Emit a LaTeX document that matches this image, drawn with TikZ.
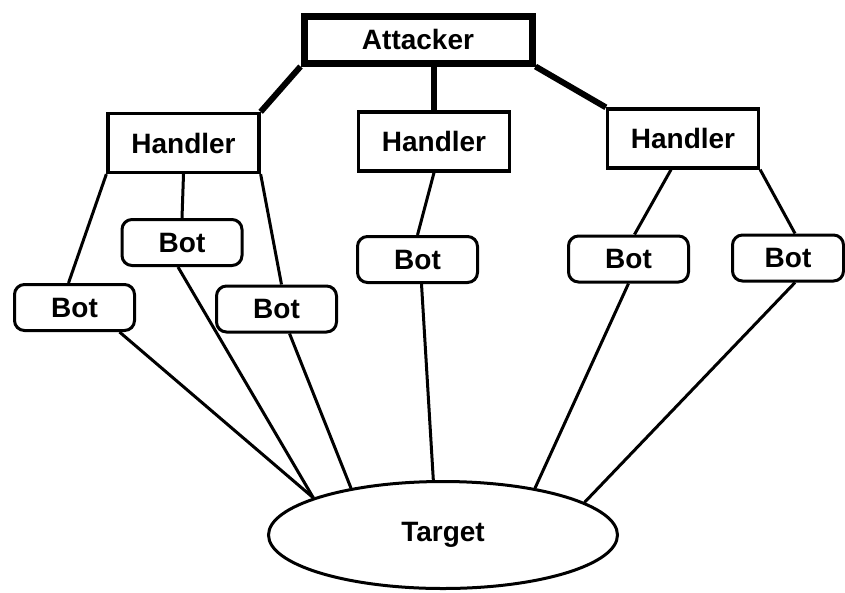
\documentclass[tikz,border=0pt]{standalone}
\usepackage{fontspec}
\setmainfont{Liberation Sans}
\usetikzlibrary{shapes.geometric}

\tikzset{
	box/.style={draw, rectangle, inner sep=0pt, font=\fontsize{28}{32}\selectfont\bfseries},
	attacker/.style={box, line width=7pt, minimum width=228pt, minimum height=47pt},
	handler/.style={box, line width=3.3pt, minimum width=151pt, minimum height=59pt},
	bot/.style={box, line width=3pt, rounded corners=10pt, minimum width=120pt, minimum height=46pt},
	target/.style={box, ellipse, line width=3pt, minimum width=349pt, minimum height=107pt},
	link/.style={line width=3pt},
	biglink/.style={line width=6pt}
}

\begin{document}
\begin{tikzpicture}[x=1pt,y=-1pt]
	\useasboundingbox (0,0) rectangle (845,592);

	%Attacker and handlers
	\node[attacker] (attacker) at (418,39.5) {Attacker};
	\foreach \name/\x/\y in {handler1/183.5/143, handler2/434/141.5, handler3/683/138.5}{
		\node[handler] (\name) at (\x,\y) {Handler};
	}

	%Bots
	\foreach \name/\x/\y in {bot1/74.5/307.5, bot2/182/242.5, bot3/276.5/309, bot4/417.5/259.5, bot5/628.5/259}{
		\node[bot] (\name) at (\x,\y) {Bot};
	}
	\node[bot, minimum width=111pt] (bot6) at (788,258) {Bot};

	%Target
	\node[target] (target) at (443,535) {Target};

	%Attacker to handlers
	\draw[biglink] (attacker.south west) -- (handler1.north east);
	\draw[biglink] (handler2.north |- attacker.south) -- (handler2.north);
	\draw[biglink] (attacker.south east) -- (handler3.north west);

	%Handlers to bots
	\draw[link] (handler1.south west) -- ([xshift=-6pt]bot1.north);
	\draw[link] (handler1.south) -- (bot2.north);
	\draw[link] (handler1.south east) -- ([xshift=5pt]bot3.north);
	\draw[link] (handler2.south) -- (bot4.north);
	\draw[link] ([xshift=-12pt]handler3.south) -- ([xshift=6pt]bot5.north);
	\draw[link] (handler3.south east) -- ([xshift=7pt]bot6.north);

	%Bots to target
	\foreach \from/\shift/\angle in {bot1/45/164, bot2/-4/164, bot3/13/153, bot4/4/100, bot5/0/27, bot6/7/13}{
		\draw[link] ([xshift=\shift pt]\from.south) -- (target.\angle);
	}
\end{tikzpicture}
\end{document}
